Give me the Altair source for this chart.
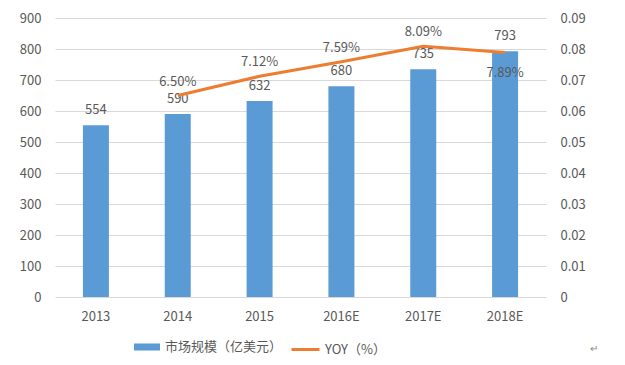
import altair as alt
import pandas as pd

years = ["2013", "2014", "2015", "2016E", "2017E", "2018E"]
market = [554, 590, 632, 680, 735, 793]
yoy = [None, 0.065, 0.0712, 0.0759, 0.0809, 0.0789]
left_ticks = [0, 100, 200, 300, 400, 500, 600, 700, 800, 900]
right_ticks = [0, 0.01, 0.02, 0.03, 0.04, 0.05, 0.06, 0.07, 0.08, 0.09]
bar_name = "市场规模（亿美元）"
line_name = "YOY（%）"

df = pd.DataFrame({"year": years, "market": market, "yoy": yoy,
                   "bar_series": [bar_name] * len(years),
                   "line_series": [line_name] * len(years)})

FONT = "Noto Sans CJK SC"
GRAY = "#595959"
BLUE = "#5B9BD5"
ORANGE = "#ED7D31"

x = alt.X("year:N", sort=years, title=None,
          scale=alt.Scale(paddingInner=0, paddingOuter=0),
          axis=alt.Axis(labelAngle=0, labelPadding=13, grid=False))

base = alt.Chart(df).encode(x=x)

yl = alt.Y("market:Q", title=None, scale=alt.Scale(domain=[0, 900], nice=False),
           axis=alt.Axis(values=left_ticks, grid=True, gridColor="#D9D9D9",
                         labelPadding=14, orient="left"))

bars = base.mark_bar(size=26).encode(
    y=yl,
    color=alt.Color("bar_series:N", scale=alt.Scale(domain=[bar_name], range=[BLUE]),
                    legend=alt.Legend(title=None, orient="none", legendX=79, legendY=316,
                                      symbolType="M-1,-0.27L1,-0.27L1,0.27L-1,0.27Z",
                                      symbolSize=676, labelOffset=5, padding=0,
                                      symbolStrokeWidth=0, symbolOpacity=1)),
)
bar_labels = base.mark_text(dy=-8, baseline="bottom", font=FONT, fontSize=13,
                            color=GRAY).encode(y=yl, text="market:Q")
left = alt.layer(bars, bar_labels)

yr = alt.Y("yoy:Q", title=None, scale=alt.Scale(domain=[0, 0.09], nice=False),
           axis=alt.Axis(values=right_ticks, grid=False, orient="right",
                         format=".2~f", labelPadding=14))

lbase = base.transform_filter("isValid(datum.yoy)")
line = lbase.mark_line(strokeWidth=3).encode(
    y=yr,
    stroke=alt.Stroke("line_series:N", scale=alt.Scale(domain=[line_name], range=[ORANGE]),
                      legend=alt.Legend(title=None, orient="none", legendX=235, legendY=316,
                                        symbolType="stroke", symbolSize=784,
                                        symbolStrokeWidth=3, labelOffset=4, padding=0)),
)
line_labels_above = lbase.transform_filter("datum.year != '2018E'").mark_text(
    dy=-7, baseline="bottom", font=FONT, fontSize=13, color=GRAY
).encode(y=yr, text=alt.Text("yoy:Q", format=".2%"))
line_labels_below = lbase.transform_filter("datum.year == '2018E'").mark_text(
    dy=15, baseline="top", font=FONT, fontSize=13, color=GRAY
).encode(y=yr, text=alt.Text("yoy:Q", format=".2%"))
right = alt.layer(line, line_labels_above, line_labels_below)

mark_char = alt.Chart(pd.DataFrame({"t": ["↵"]})).mark_text(
    font=FONT, fontSize=10, color="#888888", align="left"
).encode(x=alt.value(535), y=alt.value(331), text="t:N")

chart = alt.layer(left, right, mark_char).resolve_scale(
    y="independent", color="independent", stroke="independent"
).properties(
    width=491, height=279,
    autosize=alt.AutoSizeParams(type="none"),
    padding={"left": 47, "top": 10, "right": 71, "bottom": 60},
).configure_view(stroke=None).configure_axis(
    domain=False, ticks=False, labelColor=GRAY, labelFont=FONT, labelFontSize=13,
).configure_legend(
    labelColor=GRAY, labelFont=FONT, labelFontSize=13
)

chart.save("out.html", embed_options={"renderer": "svg", "actions": False})
